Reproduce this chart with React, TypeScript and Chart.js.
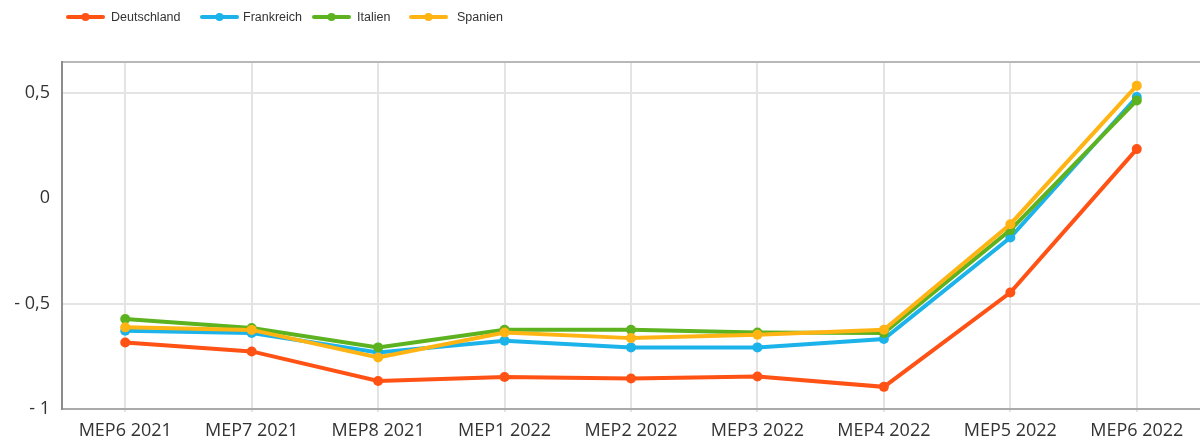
import React, { useEffect, useRef } from "react";
import { Chart, registerables } from "chart.js";

Chart.register(...registerables);

const categories = [
  "MEP6 2021",
  "MEP7 2021",
  "MEP8 2021",
  "MEP1 2022",
  "MEP2 2022",
  "MEP3 2022",
  "MEP4 2022",
  "MEP5 2022",
  "MEP6 2022",
];
const deutschland = [-0.685, -0.727, -0.867, -0.848, -0.855, -0.846, -0.895, -0.448, 0.232];
const frankreich = [-0.629, -0.64, -0.732, -0.676, -0.708, -0.708, -0.668, -0.187, 0.479];
const italien = [-0.573, -0.616, -0.708, -0.624, -0.624, -0.637, -0.64, -0.152, 0.463];
const spanien = [-0.613, -0.625, -0.756, -0.637, -0.664, -0.648, -0.624, -0.124, 0.533];
const seriesNames = ["Deutschland", "Frankreich", "Italien", "Spanien"];
const seriesColors = ["#FF5214", "#1CB2EA", "#5DB31F", "#FFB414"];
const yTicks = [-1, -0.5, 0, 0.5];
const yMin = -1;
const yMax = 0.645;

const legendBoxX = [66, 200, 312, 409];
const legendTextX = [111, 243, 357, 457];

const fmt = (v: number) => {
  const s = Math.abs(v).toString().replace(".", ",");
  return v < 0 ? "- " + s : s;
};

const legendPlugin = {
  id: "customLegend",
  afterDraw(chart: any) {
    const ctx = chart.ctx;
    ctx.save();
    const y = 17;
    chart.data.datasets.forEach((ds: any, i: number) => {
      const x = legendBoxX[i];
      ctx.strokeStyle = ds.borderColor;
      ctx.lineWidth = 4;
      ctx.lineCap = "round";
      ctx.beginPath();
      ctx.moveTo(x + 2, y);
      ctx.lineTo(x + 37, y);
      ctx.stroke();
      ctx.fillStyle = ds.borderColor;
      ctx.beginPath();
      ctx.arc(x + 19.5, y, 4, 0, Math.PI * 2);
      ctx.fill();
      ctx.fillStyle = "#333";
      ctx.font = "12.5px 'Liberation Sans', Arial, sans-serif";
      ctx.textBaseline = "middle";
      ctx.textAlign = "left";
      ctx.fillText(ds.label, legendTextX[i], y + 1);
    });
    ctx.restore();
  },
};

export default function App() {
  const ref = useRef<HTMLCanvasElement>(null);
  useEffect(() => {
    document.body.style.margin = "0";
    const values = [deutschland, frankreich, italien, spanien];
    const orders = [3, 2, 1, 0];
    const chart = new Chart(ref.current!, {
      type: "line",
      data: {
        labels: categories,
        datasets: values.map((v, i) => ({
          label: seriesNames[i],
          data: v,
          borderColor: seriesColors[i],
          backgroundColor: seriesColors[i],
          borderWidth: 4,
          pointRadius: 5,
          pointHoverRadius: 5,
          pointBorderWidth: 0,
          tension: 0,
          order: orders[i],
        })),
      },
      options: {
        animation: false,
        responsive: false,
        layout: { padding: { top: 62, left: 0, right: 0, bottom: 0 } },
        plugins: {
          legend: { display: false },
          tooltip: { enabled: false },
        },
        scales: {
          x: {
            offset: true,
            grid: {
              offset: false,
              color: "#e4e4e4",
              lineWidth: 2,
              drawTicks: true,
              tickLength: 3,
            },
            border: { color: "#aaaaaa", width: 2 },
            ticks: {
              color: "#333",
              padding: 8,
              font: { family: "'Open Sans', sans-serif", size: 18 },
              maxRotation: 0,
              autoSkip: false,
            },
            afterFit: (s: any) => {
              s.height = 34;
            },
          },
          y: {
            min: yMin,
            max: yMax,
            afterBuildTicks: (s: any) => {
              s.ticks = [...yTicks, yMax].map((v) => ({ value: v }));
            },
            afterFit: (s: any) => {
              s.width = 62;
            },
            grid: {
              color: (c: any) => {
                const v = c.tick ? c.tick.value : 0;
                if (v === 0) return "rgba(0,0,0,0)";
                if (v === yMax) return "#b8b8b8";
                return "#e4e4e4";
              },
              lineWidth: 2,
              drawTicks: false,
            },
            border: { color: "#8c8c8c", width: 2 },
            ticks: {
              color: "#333",
              padding: 12,
              font: { family: "'Open Sans', sans-serif", size: 18 },
              callback: (v: any) => (v === yMax ? "" : fmt(Number(v))),
            },
          },
        },
      },
      plugins: [legendPlugin],
    });
    return () => chart.destroy();
  }, []);
  return (
    <div style={{ width: 1200, height: 443, overflow: "hidden" }}>
      <canvas ref={ref} width={1205} height={443} />
    </div>
  );
}
